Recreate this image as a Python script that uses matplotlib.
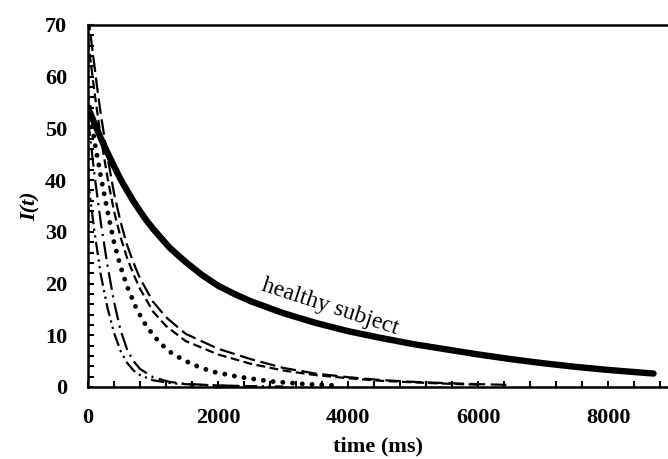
import matplotlib
matplotlib.use("Agg")
import matplotlib.pyplot as plt
from matplotlib.ticker import MultipleLocator

plt.rcParams['font.family'] = ['Liberation Serif', 'DejaVu Serif']

# healthy subject (thick solid)
t_healthy = [0, 100, 200, 300, 400, 500, 600, 700, 800, 900, 1000, 1250, 1500, 1750,
             2000, 2250, 2500, 3000, 3500, 4000, 4500, 5000, 5500, 6000, 6500, 7000,
             7500, 8000, 8700]
v_healthy = [54, 51, 48, 45.3, 42.7, 40.2, 38, 35.9, 34, 32.2, 30.6, 27, 24.2, 21.7,
             19.6, 18, 16.6, 14.3, 12.4, 10.8, 9.5, 8.3, 7.3, 6.3, 5.4, 4.6,
             3.9, 3.3, 2.6]

# long dash
t_a = [0, 50, 100, 150, 200, 300, 400, 500, 600, 700, 800, 1000, 1200, 1500, 2000,
       2500, 3000, 3500, 4000, 4500, 5000, 5500, 6000, 6500]
v_a = [72, 67, 62, 57, 52.5, 44.5, 37.5, 32, 27.5, 24, 21, 16.5, 13.5, 10.3, 7.4,
       5.4, 3.7, 2.6, 1.9, 1.35, 1.0, 0.75, 0.55, 0.4]

# short dash
t_b = [0, 50, 100, 150, 200, 300, 400, 500, 600, 700, 800, 1000, 1200, 1500, 2000,
       2500, 3000, 3500, 4000, 4500, 5000, 5500, 6000]
v_b = [67, 62, 57, 52.5, 48, 40.5, 34, 29, 25, 21.8, 19, 14.6, 11.8, 8.9, 6.3,
       4.5, 3.2, 2.3, 1.7, 1.2, 0.9, 0.65, 0.45]

# dotted
t_c = [0, 100, 200, 300, 400, 500, 600, 750, 900, 1100, 1300, 1600, 1900, 2300,
       2800, 3300, 3800]
v_c = [56, 47.5, 40.5, 34, 28, 23.3, 19.5, 15, 11.7, 8.6, 6.4, 4.4, 3.0, 2.0,
       1.1, 0.6, 0.3]

# dash-dot
t_d = [0, 100, 200, 300, 400, 500, 600, 700, 800, 1000, 1250, 1500, 2000, 2500]
v_d = [52, 41, 31.5, 23.5, 16.5, 11, 7.3, 5, 3.5, 1.9, 1.0, 0.6, 0.3, 0.15]

# dash-dot-dot
t_e = [0, 100, 200, 300, 400, 500, 600, 700, 800, 1000, 1300, 1700, 2200, 3000]
v_e = [40, 30, 21.5, 15.3, 10.5, 7, 4.7, 3.2, 2.3, 1.3, 0.7, 0.4, 0.2, 0.1]

fig = plt.figure(figsize=(6.68, 4.59), dpi=100)
ax = fig.add_axes([88 / 668, 72 / 459, 580 / 668, 362 / 459])

ax.plot(t_a, v_a, color='black', lw=1.6, dashes=(7, 2.5))
ax.plot(t_b, v_b, color='black', lw=1.6, dashes=(4, 2))
ax.plot(t_c, v_c, color='black', lw=3.5, dashes=(0.01, 2.0), dash_capstyle='round')
ax.plot(t_d, v_d, color='black', lw=1.6, dashes=(8, 2.5, 1, 2.5))
ax.plot(t_e, v_e, color='black', lw=1.6, dashes=(6, 2, 1, 2, 1, 2))
ax.plot(t_healthy, v_healthy, color='black', lw=4.6, solid_capstyle='round',
        solid_joinstyle='round')

ax.text(3730, 15.5, 'healthy subject', fontsize=17, rotation=-18,
        ha='center', va='center', rotation_mode='anchor')

ax.set_xlim(0, 8923)
ax.set_ylim(0, 70)
ax.xaxis.set_major_locator(MultipleLocator(2000))
ax.xaxis.set_minor_locator(MultipleLocator(400))
ax.yaxis.set_major_locator(MultipleLocator(10))
ax.yaxis.set_minor_locator(MultipleLocator(2))
ax.tick_params(which='both', direction='in', width=1.5, length=4,
               labelsize=16, pad=15)
for lab in ax.get_xticklabels() + ax.get_yticklabels():
    lab.set_fontweight('bold')

for s in ['left', 'bottom', 'top']:
    ax.spines[s].set_linewidth(1.8)
ax.spines['right'].set_visible(False)

ax.set_xlabel('time (ms)', fontsize=16, fontweight='bold', labelpad=6)
ax.set_ylabel('I(t)', fontsize=16, fontweight='bold', fontstyle='italic', labelpad=3)

fig.savefig('out.png', dpi=100)
